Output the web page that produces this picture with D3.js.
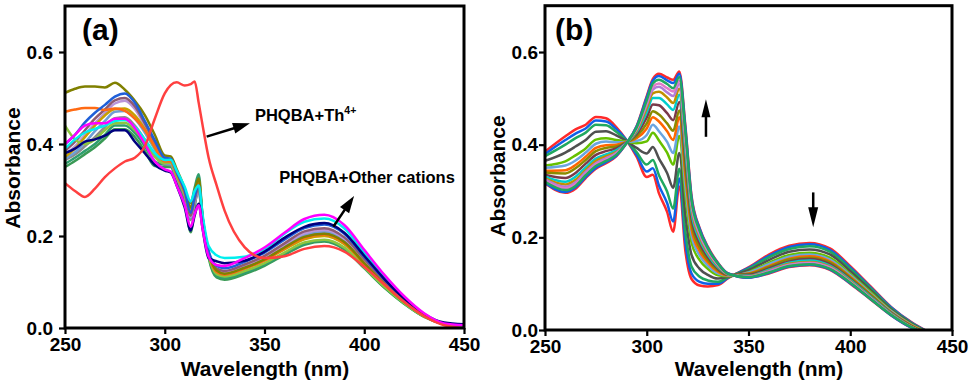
<!DOCTYPE html>
<html>
<head>
<meta charset="utf-8">
<script src="https://cdn.jsdelivr.net/npm/d3@7"></script>
<style>
  body { margin: 0; background: #fff; }
  svg { display: block; font-family: Arial, "Liberation Sans", sans-serif; }
</style>
</head>
<body>
<svg id="chart" width="969" height="387"></svg>
<script>
// ---- panel (a): PHQBA with different cations ----
const wavelengthA = [250, 255, 260, 265, 270, 275, 280, 285, 290, 295,
  300, 303, 306, 310, 313, 315, 317, 319, 322, 326, 330,
  340, 350, 360, 370, 380, 390, 400, 410, 420, 430, 440, 450];

const thoriumA = [.315, .298, .285, .303, .328, .347, .362, .37, .395, .455,
  .51, .528, .534, .527, .53, .536, .49, .44, .37, .31, .255,
  .176, .152, .156, .172, .178, .166, .133, .095, .057, .026, .006, 0];

// drawing order: bottom first
const cationColorsA = ['#3a9a55', '#2e9e6e', '#8c8c8c', '#6e9fd6', '#b995da', '#8e5a72',
  '#c9a000', '#8dc63f', '#ff6a13', '#808000', '#1f5fd8', '#00eeee', '#00007f', '#ff00ff'];

const cationsA = [
  // green
  [.35, .363, .378, .393, .412, .432, .432, .415, .385, .352,
   .35, .35, .318, .278, .208, .262, .315, .236, .153, .11, .105,
   .117, .135, .159, .181, .188, .171, .13, .088, .053, .024, .008, .002],
  // teal
  [.357, .37, .385, .40, .42, .44, .44, .424, .395, .362,
   .355, .356, .328, .292, .272, .305, .334, .24, .157, .113, .108,
   .12, .138, .161, .183, .19, .173, .131, .089, .053, .025, .008, .002],
  // grey
  [.365, .377, .395, .415, .437, .456, .458, .44, .41, .377,
   .356, .354, .324, .286, .235, .27, .296, .228, .16, .123, .118,
   .131, .15, .176, .20, .207, .188, .143, .097, .058, .027, .008, .002],
  // steel blue
  [.368, .382, .403, .428, .45, .47, .472, .455, .425, .388,
   .358, .357, .327, .29, .24, .275, .30, .231, .162, .125, .12,
   .134, .152, .179, .203, .21, .191, .145, .099, .059, .027, .008, .002],
  // violet
  [.378, .395, .42, .445, .467, .488, .494, .476, .44, .40,
   .364, .361, .331, .292, .242, .277, .302, .232, .162, .127, .121,
   .135, .154, .181, .206, .213, .194, .147, .10, .06, .028, .009, .002],
  // wine
  [.385, .405, .43, .455, .475, .495, .50, .482, .445, .403,
   .366, .364, .334, .294, .244, .28, .305, .234, .164, .129, .124,
   .138, .157, .184, .21, .217, .197, .15, .102, .061, .028, .009, .002],
  // dark yellow
  [.372, .39, .415, .44, .462, .476, .477, .462, .432, .392,
   .36, .36, .33, .292, .25, .285, .31, .234, .161, .122, .117,
   .129, .147, .171, .193, .20, .182, .138, .094, .056, .026, .008, .002],
  // yellow-green
  [.44, .41, .40, .41, .43, .445, .446, .43, .405, .372,
   .358, .36, .332, .295, .26, .295, .322, .235, .158, .117, .112,
   .124, .141, .164, .186, .192, .175, .132, .09, .054, .025, .008, .002],
  // orange
  [.47, .475, .478, .478, .474, .477, .472, .455, .43, .395,
   .362, .362, .335, .295, .253, .29, .315, .235, .162, .122, .116,
   .129, .147, .173, .196, .203, .185, .14, .095, .057, .026, .008, .002],
  // olive
  [.511, .52, .525, .525, .523, .533, .518, .494, .463, .42,
   .375, .373, .345, .303, .262, .298, .325, .24, .165, .125, .118,
   .131, .149, .175, .198, .205, .187, .141, .096, .057, .027, .008, .002],
  // blue
  [.40, .42, .447, .468, .485, .503, .51, .49, .45, .408,
   .37, .368, .338, .298, .25, .285, .31, .238, .168, .135, .13,
   .144, .164, .192, .217, .225, .205, .155, .106, .063, .029, .009, .003],
  // cyan
  [.39, .41, .425, .433, .44, .45, .452, .437, .41, .38,
   .365, .366, .342, .307, .275, .298, .31, .245, .178, .158, .152,
   .155, .172, .205, .231, .238, .217, .164, .112, .067, .031, .01, .004],
  // navy
  [.38, .39, .405, .41, .418, .43, .43, .405, .38, .355,
   .342, .338, .31, .262, .212, .245, .27, .215, .152, .145, .141,
   .146, .166, .196, .22, .228, .207, .157, .107, .064, .03, .012, .008],
  // magenta
  [.40, .42, .44, .445, .445, .455, .455, .435, .40, .362,
   .345, .34, .31, .267, .22, .248, .267, .215, .155, .137, .135,
   .152, .175, .207, .237, .246, .224, .17, .116, .069, .032, .01, .006]
];

// ---- panel (b): titration of PHQBA with Th4+ ----
const wavelengthB = [250, 260, 265, 270, 275, 280, 285, 290, 295, 300,
  303, 306, 310, 313, 316, 319, 322, 326, 330, 335, 340,
  350, 360, 370, 380, 390, 400, 410, 420, 430, 440];

const titrationColorsB = ['#ff2a2a', '#1060e8', '#20a860', '#505050', '#66c000', '#6aa5e0',
  '#ff6600', '#8b8b00', '#7a3a4a', '#00cccc', '#c09000', '#b07cd8', '#e07ac8',
  '#ff2a2a', '#1060e8', '#20a860'];

const titrationB = [
  [.385, .418, .433, .443, .46, .457, .438, .41, .374, .33, .335, .295, .255, .212, .31, .17, .11, .096, .094, .097, .112, .135, .163, .182, .188, .176, .138, .094, .05, .017, -.008],
  [.38, .41, .424, .435, .452, .45, .434, .41, .378, .342, .349, .312, .274, .234, .327, .188, .122, .104, .10, .10, .113, .134, .16, .179, .185, .173, .135, .092, .049, .016, -.008],
  [.375, .40, .414, .426, .443, .442, .428, .409, .384, .357, .367, .334, .299, .262, .348, .211, .137, .115, .107, .104, .114, .132, .157, .175, .181, .169, .132, .09, .047, .015, -.009],
  [.365, .383, .396, .41, .428, .429, .42, .408, .393, .381, .395, .37, .339, .307, .382, .248, .162, .132, .119, .111, .115, .129, .151, .169, .174, .163, .127, .086, .045, .014, -.009],
  [.355, .364, .377, .392, .411, .414, .41, .407, .403, .407, .426, .409, .383, .357, .419, .289, .189, .151, .132, .118, .116, .125, .145, .162, .167, .156, .121, .082, .042, .012, -.01],
  [.35, .355, .366, .383, .402, .407, .405, .406, .408, .421, .443, .429, .406, .382, .439, .31, .204, .161, .139, .122, .117, .124, .142, .158, .163, .152, .118, .079, .041, .011, -.01],
  [.344, .345, .356, .374, .393, .399, .40, .406, .414, .435, .459, .45, .429, .41, .459, .332, .218, .17, .146, .126, .118, .122, .138, .154, .159, .148, .115, .077, .039, .01, -.01],
  [.34, .338, .349, .367, .386, .393, .396, .405, .418, .446, .472, .465, .446, .43, .474, .348, .229, .178, .151, .129, .119, .121, .136, .152, .156, .146, .113, .076, .038, .009, -.01],
  [.335, .328, .339, .359, .378, .386, .392, .405, .423, .459, .487, .485, .468, .453, .492, .369, .242, .187, .157, .132, .119, .119, .133, .148, .153, .142, .11, .073, .037, .008, -.011],
  [.331, .32, .331, .351, .37, .379, .388, .404, .427, .47, .501, .501, .487, .475, .508, .386, .254, .195, .163, .135, .12, .117, .13, .145, .15, .139, .108, .072, .036, .007, -.011],
  [.327, .314, .324, .345, .365, .375, .384, .404, .43, .479, .511, .514, .502, .49, .521, .40, .263, .201, .167, .138, .12, .116, .128, .143, .147, .137, .106, .07, .035, .007, -.011],
  [.325, .309, .319, .341, .36, .371, .382, .404, .433, .486, .519, .525, .513, .505, .531, .41, .27, .206, .17, .14, .121, .115, .127, .141, .145, .135, .104, .069, .034, .006, -.012],
  [.322, .306, .315, .337, .357, .368, .38, .404, .435, .491, .525, .532, .522, .515, .538, .418, .276, .21, .173, .141, .121, .115, .125, .14, .144, .134, .103, .068, .033, .006, -.012],
  [.317, .296, .305, .328, .348, .36, .375, .403, .44, .505, .542, .553, .545, .54, .558, .44, .29, .22, .18, .145, .122, .113, .122, .136, .14, .13, .10, .066, .032, .005, -.012],
  [.318, .298, .308, .33, .35, .362, .376, .403, .439, .502, .538, .548, .539, .533, .553, .435, .286, .218, .178, .144, .122, .113, .123, .137, .141, .131, .101, .067, .032, .005, -.012],
  [.32, .302, .311, .334, .354, .365, .378, .403, .437, .496, .532, .54, .531, .522, .546, .427, .281, .214, .176, .143, .121, .114, .124, .138, .142, .132, .102, .067, .033, .006, -.012]
];

const xTicks = [250, 300, 350, 400, 450];
const yTicks = [0, 0.2, 0.4, 0.6];

const svg = d3.select('#chart');

function drawPanel(opts) {
  const x = d3.scaleLinear().domain([250, 450]).range([opts.left, opts.right]);
  const y = d3.scaleLinear().domain([0, 0.7]).range([opts.bottom, opts.top]);
  const g = svg.append('g');

  svg.append('clipPath').attr('id', 'clip-' + opts.id)
    .append('rect')
    .attr('x', opts.left).attr('y', opts.top)
    .attr('width', opts.right - opts.left)
    .attr('height', opts.bottom - opts.top);

  const line = d3.line()
    .x((d, i) => x(opts.wavelengths[i]))
    .y(d => y(d))
    .curve(d3.curveMonotoneX);

  const lines = g.append('g').attr('clip-path', `url(#clip-${opts.id})`);
  opts.series.forEach(s => {
    lines.append('path')
      .datum(s.values)
      .attr('d', line)
      .attr('fill', 'none')
      .attr('stroke', s.color)
      .attr('stroke-width', 2.5)
      .attr('stroke-linejoin', 'round');
  });

  // axes (ticks outward)
  const xAxis = g.append('g')
    .attr('transform', `translate(0,${opts.bottom})`)
    .call(d3.axisBottom(x).tickValues(xTicks).tickSize(6).tickPadding(4));
  const yAxis = g.append('g')
    .attr('transform', `translate(${opts.left},0)`)
    .call(d3.axisLeft(y).tickValues(yTicks).tickSize(6).tickPadding(opts.yPad)
      .tickFormat(d3.format('.1f')));

  [xAxis, yAxis].forEach(a => {
    a.select('.domain').remove();
    a.selectAll('line').attr('stroke', '#000').attr('stroke-width', 2.2);
    a.selectAll('text')
      .attr('fill', '#000')
      .attr('font-size', '19px')
      .attr('font-weight', 'bold')
      .attr('font-family', 'Arial, "Liberation Sans", sans-serif');
  });

  // frame
  g.append('rect')
    .attr('x', opts.left).attr('y', opts.top)
    .attr('width', opts.right - opts.left)
    .attr('height', opts.bottom - opts.top)
    .attr('fill', 'none')
    .attr('stroke', '#000')
    .attr('stroke-width', 3);

  // titles
  g.append('text')
    .attr('x', opts.xTitleX).attr('y', 376)
    .attr('text-anchor', 'middle')
    .attr('font-size', '21px').attr('font-weight', 'bold')
    .text('Wavelength (nm)');

  g.append('text')
    .attr('transform', `translate(${opts.yTitleX},${opts.yTitleY}) rotate(-90)`)
    .attr('text-anchor', 'middle')
    .attr('font-size', '21px').attr('font-weight', 'bold')
    .text('Absorbance');

  g.append('text')
    .attr('x', opts.left + opts.tagDx).attr('y', 40)
    .attr('font-size', '30px').attr('font-weight', 'bold')
    .text(opts.tag);

  return { g, x, y };
}

function arrow(g, x1, y1, x2, y2, headLen, headW) {
  const dx = x2 - x1, dy = y2 - y1;
  const len = Math.sqrt(dx * dx + dy * dy);
  const ux = dx / len, uy = dy / len;
  const bx = x2 - ux * headLen, by = y2 - uy * headLen;
  g.append('line')
    .attr('x1', x1).attr('y1', y1)
    .attr('x2', bx + ux * 2).attr('y2', by + uy * 2)
    .attr('stroke', '#000').attr('stroke-width', 2.5);
  g.append('polygon')
    .attr('points', [
      [x2, y2],
      [bx - uy * headW / 2, by + ux * headW / 2],
      [bx + uy * headW / 2, by - ux * headW / 2]
    ].map(p => p.join(',')).join(' '))
    .attr('fill', '#000');
}

// panel (a)
const seriesA = cationsA.map((v, i) => ({ values: v, color: cationColorsA[i] }));
seriesA.push({ values: thoriumA, color: '#ff4040' });

const pa = drawPanel({
  id: 'a', left: 65, right: 464, top: 6, bottom: 328,
  wavelengths: wavelengthA, series: seriesA,
  yPad: 6, xTitleX: 265, yTitleX: 20, yTitleY: 168, tag: '(a)', tagDx: 17
});

arrow(pa.g, pa.x(321), pa.y(0.416), pa.x(342.7), pa.y(0.445), 17, 11);
arrow(pa.g, pa.x(384.5), pa.y(0.22), pa.x(394.9), pa.y(0.287), 17, 11);

const thLabel = pa.g.append('text')
  .attr('x', pa.x(345.2)).attr('y', pa.y(0.4507))
  .attr('font-size', '16.5px').attr('font-weight', 'bold');
thLabel.append('tspan').text('PHQBA+Th');
thLabel.append('tspan').attr('font-size', '10.5px').attr('dy', -7).text('4+');

pa.g.append('text')
  .attr('x', pa.x(357.4)).attr('y', pa.y(0.316))
  .attr('font-size', '16.5px').attr('font-weight', 'bold')
  .text('PHQBA+Other cations');

// panel (b)
const seriesB = titrationB.map((v, i) => ({ values: v, color: titrationColorsB[i] }));

const pb = drawPanel({
  id: 'b', left: 545, right: 952, top: 5.7, bottom: 330,
  wavelengths: wavelengthB, series: seriesB,
  yPad: 1, xTitleX: 759, yTitleX: 505, yTitleY: 176, tag: '(b)', tagDx: 10
});

arrow(pb.g, pb.x(329.1), pb.y(0.417), pb.x(329.1), pb.y(0.498), 18, 9);
arrow(pb.g, pb.x(381.8), pb.y(0.297), pb.x(381.8), pb.y(0.222), 20, 10);
</script>
</body>
</html>
